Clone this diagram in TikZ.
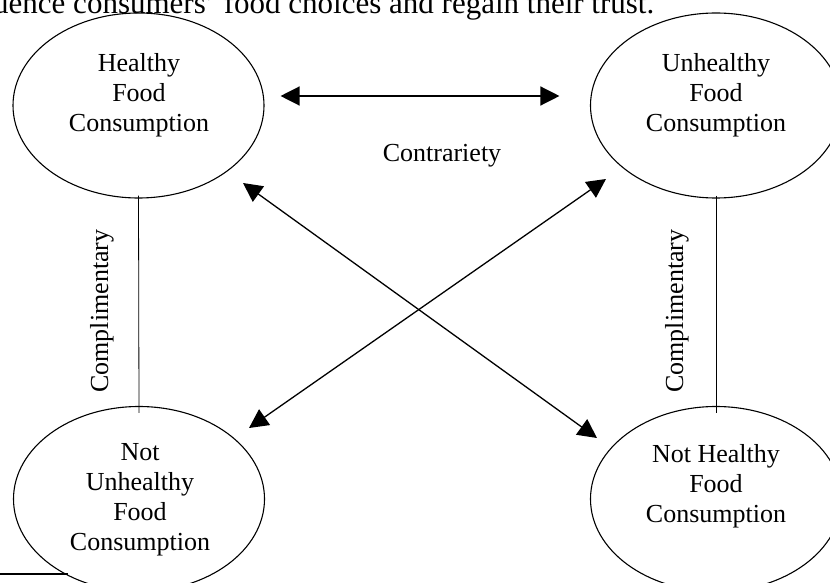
\documentclass[tikz,border=0pt]{standalone}
\usepackage{fontspec}
\setmainfont{Liberation Serif}
\usetikzlibrary{arrows.meta,shapes.geometric}

\tikzset{
  oval/.style={draw, ellipse, line width=1.1pt, minimum width=251pt, minimum height=185pt, inner sep=0pt},
  lbl/.style={align=center, inner sep=0pt, font=\fontsize{26}{30}\selectfont},
  dbl/.style={line width=1.3pt, {Triangle[length=19pt,width=19pt]}-{Triangle[length=19pt,width=19pt]}},
  link/.style={line width=0.8pt},
}

\begin{document}
\begin{tikzpicture}[x=1pt,y=-1pt]
  \useasboundingbox (0,0) rectangle (830,583);
  \clip (0,0) rectangle (830,583);

  % closing words of the running text above the figure
  \node[anchor=base west, inner sep=0pt, font=\fontsize{31}{36}\selectfont] (intro) at (-7,13.5)
    {uence consumers’ food choices and regain their trust.};

  % the four corners of the square
  \node[oval] (htf) at (138.5,105.5) {};
  \node[oval] (uhf) at (716,105.5) {};
  \node[oval] (nuf) at (139,499) {};
  \node[oval] (nhf) at (716,499) {};

  \node[lbl] (htft) at (139,95) {Healthy\\Food\\Consumption};
  \node[lbl] (uhft) at (716,95) {Unhealthy\\Food\\Consumption};
  \node[lbl] (nuft) at (140,500) {Not\\Unhealthy\\Food\\Consumption};
  \node[lbl] (nhft) at (716,486) {Not Healthy\\Food\\Consumption};

  % contrariety between the upper corners
  \draw[dbl, shorten <=16pt, shorten >=30.5pt] ([yshift=9.5pt]htf.east) -- ([yshift=9.5pt]uhf.west);
  \node[lbl] (ct) at (442,156) {Contrariety};

  % crossing diagonals
  \coordinate (d1s) at (243,183);
  \coordinate (d1e) at (597,438);
  \coordinate (d2s) at (606,179);
  \coordinate (d2e) at (249,428);
  \draw[dbl] (d1s) -- (d1e);
  \draw[dbl] (d2s) -- (d2e);

  % complementary sides
  \draw[link] ([yshift=3pt]htf.south) -- ([yshift=-7pt]nuf.north);
  \draw[link] ([yshift=3pt]uhf.south) -- ([yshift=-7pt]nhf.north);
  \node[lbl, rotate=90] (cl) at (102,311) {Complimentary};
  \node[lbl, rotate=90] (cr) at (677,311) {Complimentary};

  % footnote rule
  \coordinate (fr) at (0,574);
  \draw[line width=1.6pt] (fr) -- ++(68,0);
\end{tikzpicture}
\end{document}
